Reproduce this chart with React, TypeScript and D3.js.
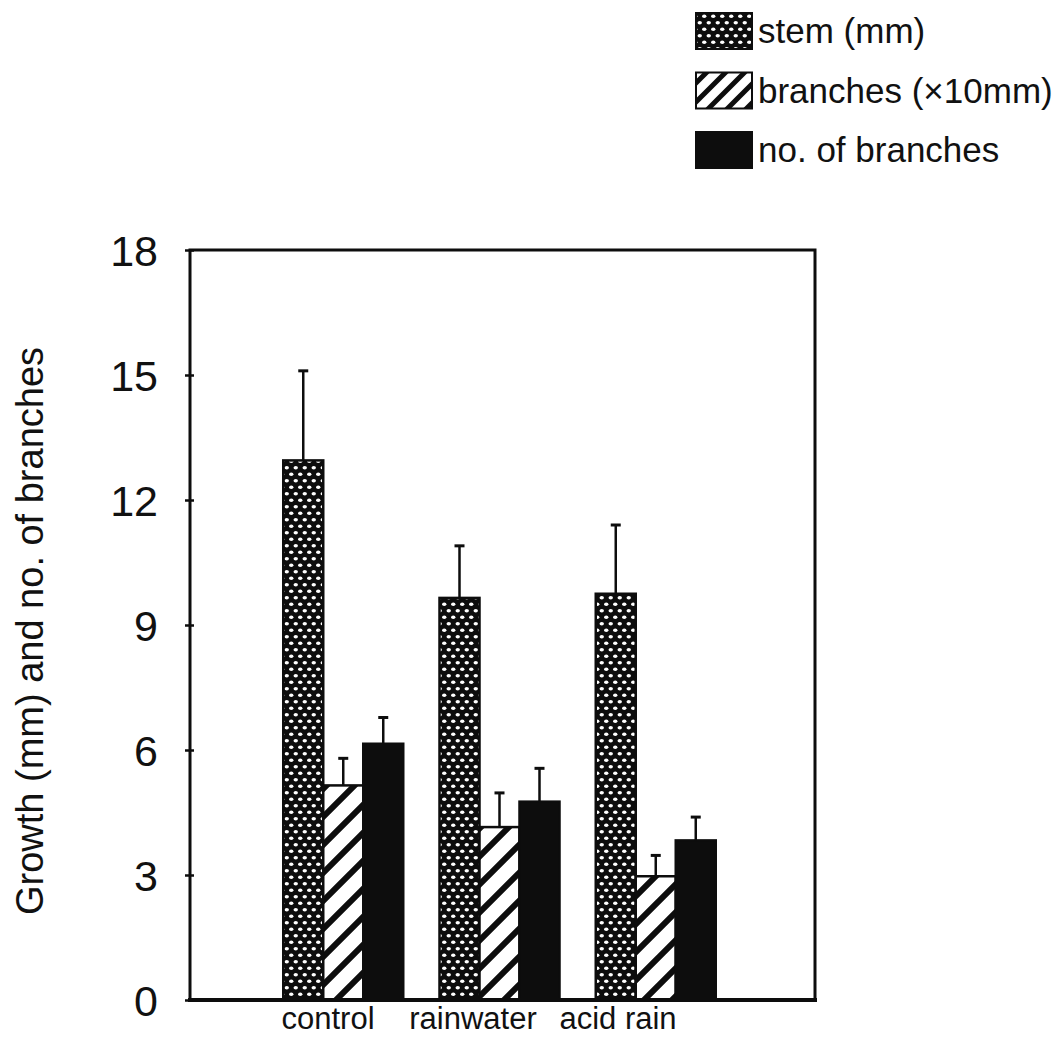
import React, { useEffect, useRef } from 'react'
import * as d3 from 'd3'

// treatments on the x axis
const categories = ['control', 'rainwater', 'acid rain']
// series, in drawing order
const seriesKeys = ['stem', 'branches', 'count']
const seriesLabels = ['stem (mm)', 'branches (\u00d710mm)', 'no. of branches']
// means and upper error bars
const stemMeans = [12.95, 9.65, 9.75]
const stemErrors = [2.15, 1.25, 1.65]
const branchMeans = [5.15, 4.15, 2.97]
const branchErrors = [0.65, 0.82, 0.5]
const countMeans = [6.15, 4.76, 3.83]
const countErrors = [0.63, 0.8, 0.56]
const yTicks = [0, 3, 6, 9, 12, 15, 18]

const FONT = '"Liberation Sans", Arial, Helvetica, sans-serif'

export default function App() {
  const ref = useRef<SVGSVGElement>(null)

  useEffect(() => {
    const svg = d3.select(ref.current)
    svg.selectAll('*').remove()

    var margin = { top: 250, right: 247, bottom: 49, left: 190 },
      width = 1062 - margin.left - margin.right,
      height = 1049 - margin.top - margin.bottom

    // fill patterns: stipple, hatch, solid
    const defs = svg.append('defs')
    const dots = defs.append('pattern').attr('id', 'stipple')
      .attr('patternUnits', 'userSpaceOnUse').attr('width', 9).attr('height', 13)
    dots.append('rect').attr('width', 9).attr('height', 13).attr('fill', '#0d0d0d')
    dots.append('ellipse').attr('cx', 2.25).attr('cy', 3.25).attr('rx', 2.2).attr('ry', 1.7).attr('fill', '#fff')
    dots.append('ellipse').attr('cx', 6.75).attr('cy', 9.75).attr('rx', 2.2).attr('ry', 1.7).attr('fill', '#fff')

    const addHatch = (id: string, p: number, w: number) => {
      const h = defs.append('pattern').attr('id', id)
        .attr('patternUnits', 'userSpaceOnUse').attr('width', p).attr('height', p)
      h.append('rect').attr('width', p).attr('height', p).attr('fill', '#fff')
      h.append('path')
        .attr('d', `M${-p / 4},${p / 4} L${p / 4},${-p / 4} M0,${p} L${p},0 M${p * 0.75},${p * 1.25} L${p * 1.25},${p * 0.75}`)
        .attr('stroke', '#0d0d0d').attr('stroke-width', w)
    }
    addHatch('hatch', 28, 6)
    addHatch('hatchSmall', 19, 5)

    const fills: Record<string, string> = { stem: 'url(#stipple)', branches: 'url(#hatch)', count: '#0d0d0d' }
    const legendFills: Record<string, string> = { stem: 'url(#stipple)', branches: 'url(#hatchSmall)', count: '#0d0d0d' }
    const means: Record<string, number[]> = { stem: stemMeans, branches: branchMeans, count: countMeans }
    const errors: Record<string, number[]> = { stem: stemErrors, branches: branchErrors, count: countErrors }

    const g = svg.append('g').attr('transform', 'translate(' + margin.left + ',' + margin.top + ')')

    const y = d3.scaleLinear().domain([0, 18]).range([height, 0])
    const x0 = d3.scalePoint<string>().domain(categories).range([-3, width - 3]).padding(1)
    const x1 = d3.scaleBand<string>().domain(seriesKeys).range([-60, 60]).padding(0)
    const xLabel = d3.scalePoint<string>().domain(categories).range([138, 428])

    // bars
    const rows = categories.flatMap((c, i) => seriesKeys.map(k => ({ cat: c, key: k, value: means[k][i], err: errors[k][i] })))
    const bars = g.append('g')
    bars.selectAll('rect').data(rows).enter().append('rect')
      .attr('x', d => (x0(d.cat) as number) + (x1(d.key) as number))
      .attr('y', d => y(d.value))
      .attr('width', x1.bandwidth())
      .attr('height', d => height - y(d.value))
      .attr('fill', d => fills[d.key])
      .attr('stroke', '#0d0d0d').attr('stroke-width', 2.5)

    // upper error bars
    const cx = (d: any) => (x0(d.cat) as number) + (x1(d.key) as number) + x1.bandwidth() / 2
    const eb = g.append('g').attr('stroke', '#0d0d0d')
    eb.selectAll('line.v').data(rows).enter().append('line').attr('class', 'v')
      .attr('x1', cx).attr('x2', cx)
      .attr('y1', d => y(d.value)).attr('y2', d => y(d.value + d.err))
      .attr('stroke-width', 2.5)
    eb.selectAll('line.c').data(rows).enter().append('line').attr('class', 'c')
      .attr('x1', d => cx(d) - 5).attr('x2', d => cx(d) + 5)
      .attr('y1', d => y(d.value + d.err)).attr('y2', d => y(d.value + d.err))
      .attr('stroke-width', 3)

    // frame
    g.append('rect').attr('x', 0).attr('y', 0).attr('width', width).attr('height', height)
      .attr('fill', 'none').attr('stroke', '#0d0d0d').attr('stroke-width', 3)
    g.append('line').attr('x1', -2).attr('x2', width + 2).attr('y1', height).attr('y2', height)
      .attr('stroke', '#0d0d0d').attr('stroke-width', 4)

    // y axis
    const yAxis = g.append('g')
      .call(d3.axisLeft(y).tickValues(yTicks).tickSize(5).tickPadding(27).tickFormat(d3.format('d')))
    yAxis.select('.domain').remove()
    yAxis.selectAll('line').attr('x1', 4).attr('stroke', '#0d0d0d').attr('stroke-width', 2.5)
    yAxis.selectAll('text')
      .attr('font-family', FONT).attr('font-size', 43).attr('fill', '#111').attr('dy', '0.36em')

    g.append('text')
      .attr('transform', 'translate(' + (43 - margin.left) + ',' + (height / 2 + 6) + ') rotate(-90)')
      .attr('text-anchor', 'middle')
      .attr('font-family', FONT).attr('font-size', 38).attr('fill', '#111')
      .text('Growth (mm) and no. of branches')

    // category labels
    g.append('g').selectAll('text').data(categories).enter().append('text')
      .attr('x', d => xLabel(d) as number)
      .attr('y', height + 29)
      .attr('text-anchor', 'middle')
      .attr('font-family', FONT).attr('font-size', 31).attr('fill', '#111')
      .text(d => d)

    // handmade legend
    const ly = d3.scalePoint<string>().domain(seriesKeys).range([13, 132])
    const lg = svg.append('g')
    seriesKeys.forEach((k, i) => {
      lg.append('rect').attr('x', 696).attr('y', ly(k) as number).attr('width', 56).attr('height', 36)
        .attr('fill', legendFills[k]).attr('stroke', '#0d0d0d').attr('stroke-width', 2)
      lg.append('text').attr('x', 758).attr('y', (ly(k) as number) + 30)
        .attr('font-family', FONT).attr('font-size', 35).attr('fill', '#111')
        .text(seriesLabels[i])
    })
  }, [])

  return <svg ref={ref} width={1062} height={1049} style={{ position: 'absolute', left: 0, top: 0, background: '#fff' }} />
}
